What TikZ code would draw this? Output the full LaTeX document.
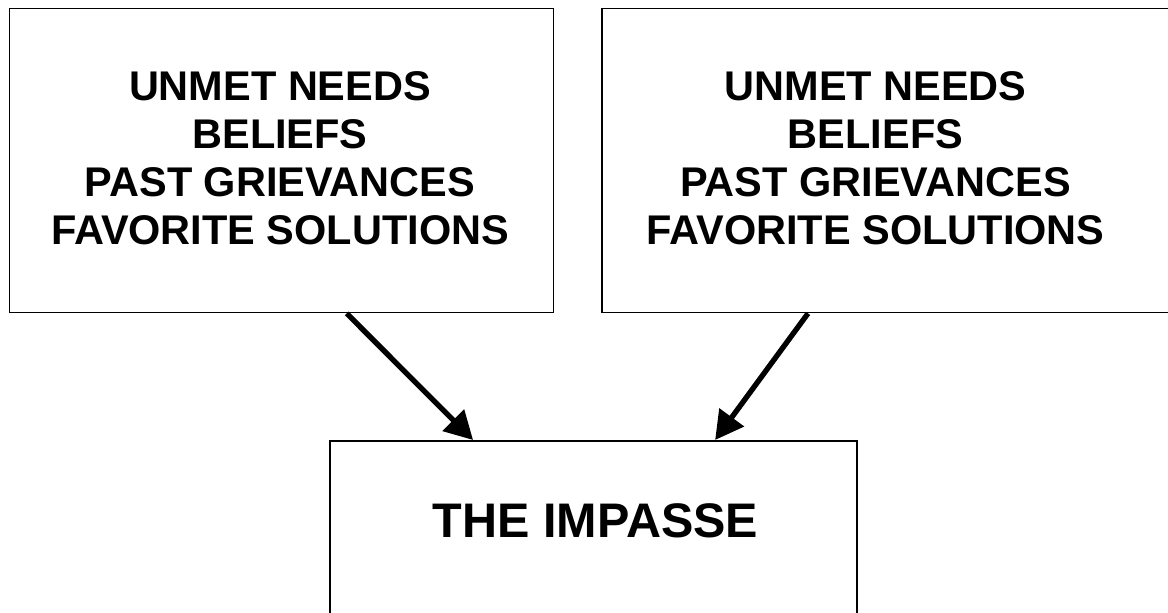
\documentclass[tikz,border=0pt]{standalone}
\usepackage{fontspec}
\setmainfont{Liberation Sans}
\usetikzlibrary{arrows.meta}

\begin{document}
\begin{tikzpicture}[x=0.025cm, y=-0.025cm, >={Triangle[length=20pt,width=21pt]},
	box/.style={draw, line width=1.1pt, minimum height=7.6cm, inner sep=0pt},
	listtext/.style={align=center, inner sep=0pt, font=\bfseries\fontsize{29.5}{34}\selectfont},
	link/.style={->, line width=3.8pt}]
	\clip (0,0) rectangle (1168,612);

	% Top left: first party
	\node[box, minimum width=13.6cm] (left) at (281.5,160.6) {};
	\node[listtext] (lefttext) at (280,158)
		{UNMET NEEDS\\BELIEFS\\PAST GRIEVANCES\\FAVORITE SOLUTIONS};

	% Top right: second party (box runs off the page)
	\node[box, minimum width=14.7cm] (right) at (896,160.6) {};
	\node[listtext] (righttext) at (875.5,158)
		{UNMET NEEDS\\BELIEFS\\PAST GRIEVANCES\\FAVORITE SOLUTIONS};

	% Bottom: the impasse
	\node[box, minimum width=13.175cm, minimum height=5.5cm, anchor=north] (impasse) at (593.5,440) {};
	\node[inner sep=0pt, font=\bfseries\fontsize{34.5}{40}\selectfont] (impassetext) at (595.5,521) {THE IMPASSE};

	\draw[link] ([xshift=1.63cm]left.south) -- ([xshift=-3.01cm]impasse.north);
	\draw[link] ([xshift=-2.2cm]right.south) -- ([xshift=3.04cm]impasse.north);
\end{tikzpicture}
\end{document}
